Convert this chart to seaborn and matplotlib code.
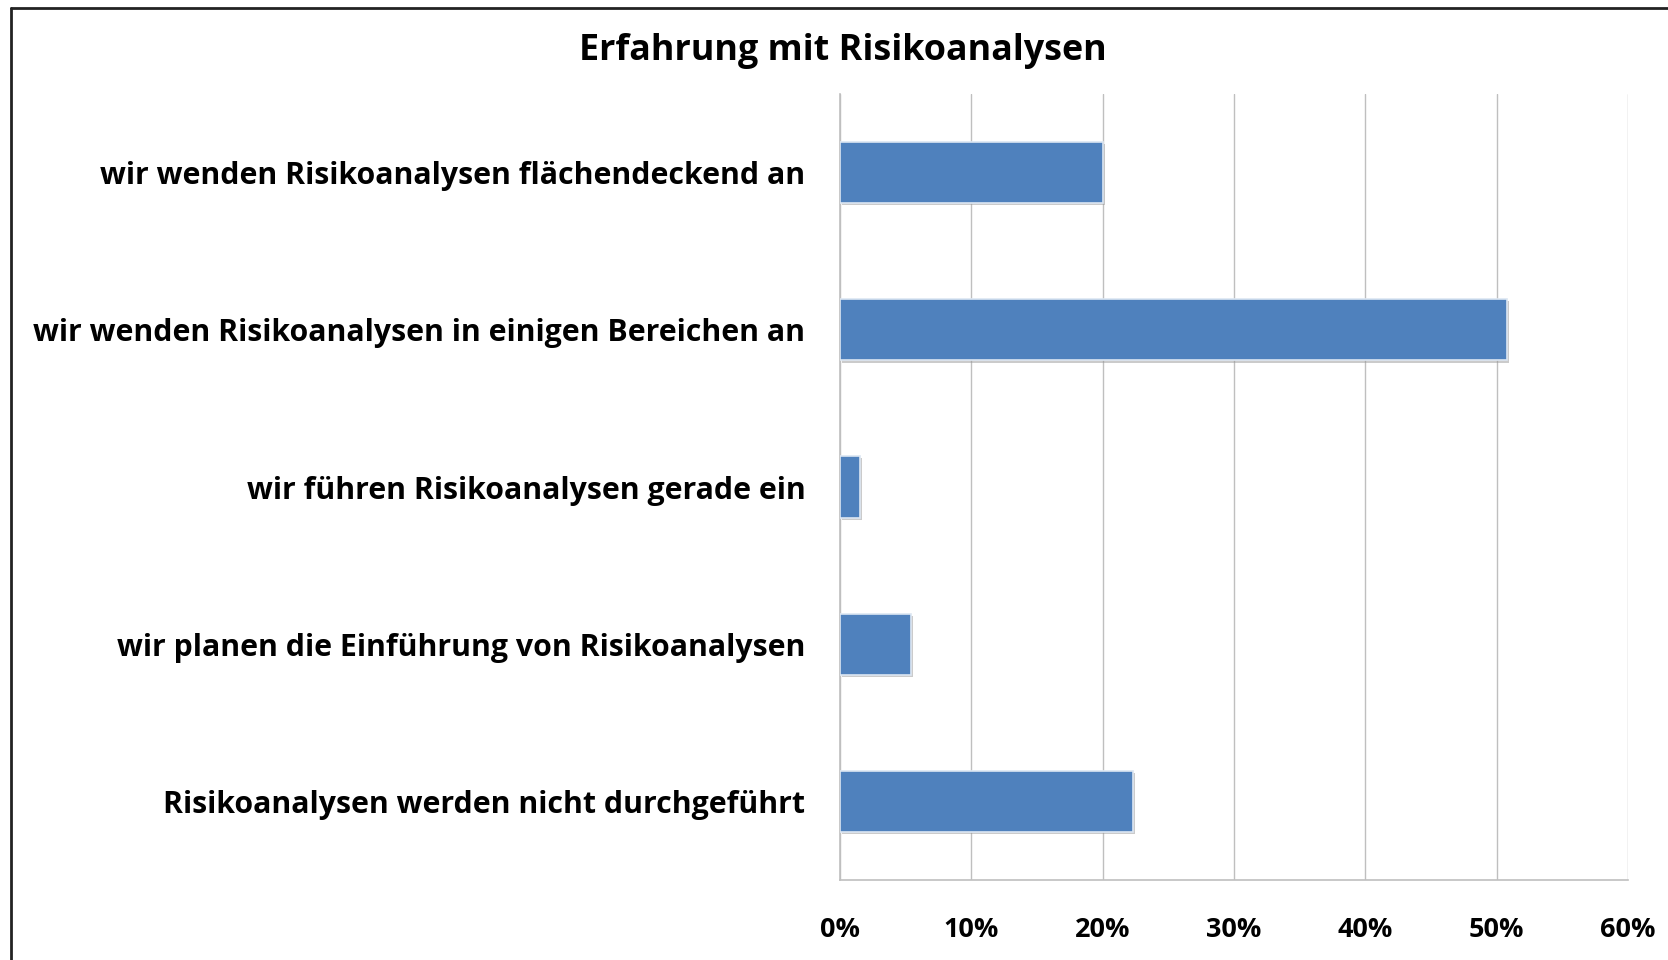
import matplotlib
matplotlib.use("Agg")
import matplotlib.pyplot as plt
import matplotlib.patheffects as pe
import seaborn as sns
import pandas as pd
from matplotlib.ticker import PercentFormatter
from matplotlib.lines import Line2D

categories = [
    "wir wenden Risikoanalysen flächendeckend an",
    "wir wenden Risikoanalysen in einigen Bereichen an",
    "wir führen Risikoanalysen gerade ein",
    "wir planen die Einführung von Risikoanalysen",
    "Risikoanalysen werden nicht durchgeführt",
]
values = [20.0, 50.8, 1.5, 5.4, 22.3]
xticks = [0, 10, 20, 30, 40, 50, 60]
title = "Erfahrung mit Risikoanalysen"

sns.set_theme(style="white")
plt.rcParams['font.family'] = ['Open Sans', 'DejaVu Sans']

df = pd.DataFrame({"cat": categories, "val": values})

fig = plt.figure(figsize=(16.68, 9.6), dpi=100)
ax = fig.add_axes([840/1668, 1-880/960, (1628-840)/1668, (880-94)/960])

sns.barplot(data=df, y="cat", x="val", orient="h", color="#4F81BD",
            width=0.39, saturation=1, ax=ax, edgecolor="#dce6f2", linewidth=1.2,
            zorder=3)
for p in ax.patches:
    p.set_path_effects([pe.SimplePatchShadow(offset=(1.5, -1.5), shadow_rgbFace="#999999", alpha=0.5),
                        pe.Normal()])

ax.set_xlim(0, 60)
ax.set_xticks(xticks)
ax.xaxis.set_major_formatter(PercentFormatter(decimals=0))
ax.set_xlabel("")
ax.set_ylabel("")
ax.grid(axis="x", color="#bfbfbf", linewidth=1, zorder=0)
ax.grid(axis="y", visible=False)
for s in ["top", "right"]:
    ax.spines[s].set_visible(False)
for s in ["left", "bottom"]:
    ax.spines[s].set_color("#bfbfbf")
    ax.spines[s].set_linewidth(1.2)
ax.tick_params(axis="x", length=0, pad=26.5, labelsize=21)
ax.tick_params(axis="y", length=0, pad=25, labelsize=21)
for lab in ax.get_xticklabels() + ax.get_yticklabels():
    lab.set_fontweight("bold")
    lab.set_color("black")

ttl = fig.text(843/1668, 1-51/960, title, ha="center", va="center",
               fontsize=24, fontweight="bold", color="black")

# fit text sizes to the reference widths
fig.canvas.draw()
r = fig.canvas.get_renderer()
w = ttl.get_window_extent(r).width
ttl.set_fontsize(24 * 528 / w)
ylab = ax.get_yticklabels()[1]
w = ylab.get_window_extent(r).width
ysize = 21 * 773 / w
ax.tick_params(axis="y", labelsize=ysize)
xlab = ax.get_xticklabels()[-1]
w = xlab.get_window_extent(r).width
xsize = 21 * 55 / w
ax.tick_params(axis="x", labelsize=xsize)

# outer frame
fig.add_artist(Line2D([11/1668, 11/1668], [0, 1-8/960], color="#222222", lw=2, transform=fig.transFigure))
fig.add_artist(Line2D([11/1668, 1], [1-8/960, 1-8/960], color="#222222", lw=2, transform=fig.transFigure))

fig.savefig("out.png", dpi=100)
